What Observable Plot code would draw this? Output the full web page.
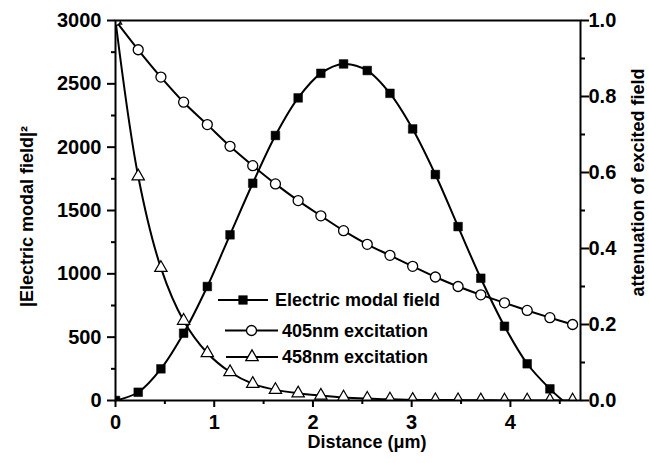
<!DOCTYPE html>
<html>
<head>
<meta charset="utf-8">
<script src="https://cdn.jsdelivr.net/npm/d3@7"></script>
<script src="https://cdn.jsdelivr.net/npm/@observablehq/plot@0.6"></script>
<style>
  body { margin: 0; background: #fff; }
  #chart { position: relative; width: 649px; height: 463px; background: #fff; }
  #chart svg { display: block; }
  #chart svg g[aria-label$="tick label"] { font-size: 20px; font-weight: bold; }
  #legend { position: absolute; left: 0; top: 0; pointer-events: none; }
</style>
</head>
<body>
<div id="chart"></div>
<script>
// Sampling positions along the waveguide (µm)
const distance = [0, 0.23, 0.46, 0.69, 0.93, 1.16, 1.39, 1.62, 1.85, 2.08, 2.31,
                  2.55, 2.78, 3.01, 3.24, 3.47, 3.70, 3.94, 4.17, 4.40, 4.63];

// |E|^2 of the guided mode (left axis); the profile ends on the axis at 4.53 µm
const fieldDistance = [0, 0.23, 0.46, 0.69, 0.93, 1.16, 1.39, 1.62, 1.85, 2.08, 2.31,
                       2.55, 2.78, 3.01, 3.24, 3.47, 3.70, 3.94, 4.17, 4.40, 4.53];
const fieldIntensity = [0, 65, 250, 531, 900, 1308, 1715, 2092, 2389, 2583, 2657,
                        2605, 2425, 2144, 1784, 1373, 965, 586, 290, 92, 0];

// Attenuation of the excitation light (right axis, 0–1)
const att405 = [1.0, 0.923, 0.851, 0.785, 0.726, 0.669, 0.618, 0.570, 0.526, 0.486, 0.447,
                0.411, 0.382, 0.353, 0.325, 0.300, 0.278, 0.257, 0.237, 0.218, 0.200];
const att458 = [1.0, 0.590, 0.349, 0.210, 0.125, 0.075, 0.044, 0.028, 0.019, 0.013, 0.008,
                0.005, 0.003, 0.002, 0.001, 0.001, 0.0005, 0.0003, 0.0002, 0.0001, 0.0001];

// Axis ticks
const xTicks = [0, 1, 2, 3, 4];
const xMinorTicks = [0.5, 1.5, 2.5, 3.5, 4.5];
const leftTicks = [0, 500, 1000, 1500, 2000, 2500, 3000];
const leftMinorTicks = [250, 750, 1250, 1750, 2250, 2750];
const rightTicks = [0, 0.2, 0.4, 0.6, 0.8, 1.0];
const rightMinorTicks = [0.1, 0.3, 0.5, 0.7, 0.9];

// Series names
const seriesNames = ["Electric modal field", "405nm excitation", "458nm excitation"];

// Right-axis values share the y scale through this factor
const RIGHT = 3000;

const FONT = "'Liberation Sans', Arial, Helvetica, sans-serif";

const fieldIdx = d3.range(fieldDistance.length);
const fieldMarkerIdx = d3.range(fieldDistance.length - 1);
const gridIdx = d3.range(distance.length);

const plot = Plot.plot({
  width: 649,
  height: 463,
  marginLeft: 115,
  marginRight: 69,
  marginTop: 20,
  marginBottom: 63,
  style: { fontFamily: FONT, fontWeight: "bold", fontSize: "20px", color: "#000", background: "#fff", overflow: "visible" },
  x: { domain: [0, 4.71] },
  y: { domain: [0, 3000] },
  marks: [
    // bottom axis
    Plot.axisX({ ticks: xTicks, tickSize: 7, tickPadding: 7, strokeWidth: 2, label: null, fontSize: 20, tickFormat: d => String(d) }),
    Plot.axisX({ ticks: xMinorTicks, tickSize: 4, strokeWidth: 2, tickFormat: () => "", label: null }),
    // left axis
    Plot.axisY({ ticks: leftTicks, tickSize: 8, tickPadding: 6, strokeWidth: 2, label: null, fontSize: 20, tickFormat: d => String(d) }),
    Plot.axisY({ ticks: leftMinorTicks, tickSize: 4, strokeWidth: 2, tickFormat: () => "", label: null }),
    // right axis
    Plot.axisY({ anchor: "right", ticks: rightTicks.map(v => v * RIGHT), tickSize: 8, tickPadding: 0, strokeWidth: 2,
                 tickFormat: d => (d / RIGHT).toFixed(1), label: null, fontSize: 20 }),
    Plot.axisY({ anchor: "right", ticks: rightMinorTicks.map(v => v * RIGHT), tickSize: 4, strokeWidth: 2,
                 tickFormat: () => "", label: null }),

    // curves
    Plot.line(fieldIdx, { x: i => fieldDistance[i], y: i => fieldIntensity[i], curve: "catmull-rom", stroke: "#000", strokeWidth: 2, clip: true }),
    Plot.line(gridIdx, { x: i => distance[i], y: i => att405[i] * RIGHT, curve: "catmull-rom", stroke: "#000", strokeWidth: 2, clip: true }),
    Plot.line(gridIdx, { x: i => distance[i], y: i => att458[i] * RIGHT, curve: "catmull-rom", stroke: "#000", strokeWidth: 2, clip: true }),

    // markers
    Plot.dot(gridIdx, { x: i => distance[i], y: i => att458[i] * RIGHT, symbol: "triangle", r: 4.6, fill: "#fff", stroke: "#000", strokeWidth: 1.2, clip: true }),
    Plot.dot(gridIdx, { x: i => distance[i], y: i => att405[i] * RIGHT, symbol: "circle", r: 5, fill: "#fff", stroke: "#000", strokeWidth: 1.3, clip: true }),
    Plot.dot(fieldMarkerIdx, { x: i => fieldDistance[i], y: i => fieldIntensity[i], symbol: "square", r: 4.9, fill: "#000", stroke: "#000", strokeWidth: 0.5, clip: true }),

    // frame
    Plot.frame({ stroke: "#000", strokeWidth: 2 }),

    // axis titles
    Plot.text(["Distance (\u03bcm)"], { frameAnchor: "bottom", dx: 19, dy: 35, lineAnchor: "top", fontSize: 18, fontWeight: "bold", fill: "#000" }),
    Plot.text(["|Electric modal field|\u00b2"], { frameAnchor: "left", dx: -88, dy: 6, rotate: -90, textAnchor: "middle", lineAnchor: "middle", fontSize: 18, fontWeight: "bold", fill: "#000" }),
    Plot.text(["attenuation of excited field"], { frameAnchor: "right", dx: 58, dy: -28, rotate: -90, textAnchor: "middle", lineAnchor: "middle", fontSize: 18, fontWeight: "bold", fill: "#000" })
  ]
});

const chart = document.getElementById("chart");
chart.appendChild(plot);

// Legend: a short line with the series marker, followed by its name
const legendRows = [
  { y: 300, x0: 218, x1: 268, tx: 275, symbol: d3.symbolSquare, fill: "#000", r: 4.9 },
  { y: 330.5, x0: 225, x1: 278, tx: 282, symbol: d3.symbolCircle, fill: "#fff", r: 5 },
  { y: 357, x0: 226, x1: 278, tx: 282, symbol: d3.symbolTriangle, fill: "#fff", r: 4.6 }
];

const legend = d3.select(chart).append("svg")
  .attr("id", "legend")
  .attr("width", 649)
  .attr("height", 463);

legendRows.forEach((row, k) => {
  const g = legend.append("g");
  g.append("line")
    .attr("x1", row.x0).attr("x2", row.x1)
    .attr("y1", row.y).attr("y2", row.y)
    .attr("stroke", "#000").attr("stroke-width", 2);
  g.append("path")
    .attr("transform", `translate(${(row.x0 + row.x1) / 2},${row.y})`)
    .attr("d", d3.symbol(row.symbol, Math.PI * row.r * row.r)())
    .attr("fill", row.fill)
    .attr("stroke", "#000")
    .attr("stroke-width", k === 0 ? 0.5 : 1.3);
  g.append("text")
    .attr("x", row.tx)
    .attr("y", row.y)
    .attr("dy", "0.36em")
    .attr("font-family", FONT)
    .attr("font-weight", "bold")
    .attr("font-size", 18)
    .attr("fill", "#000")
    .text(seriesNames[k]);
});
</script>
</body>
</html>
